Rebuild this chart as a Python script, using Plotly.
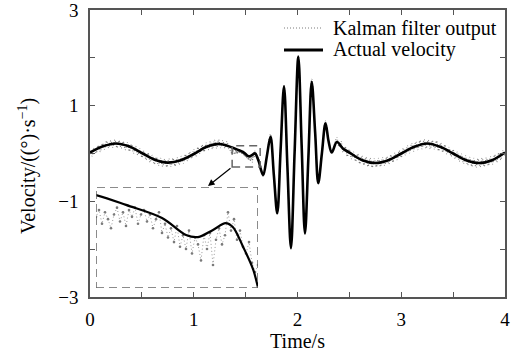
import numpy as np
import plotly.graph_objects as go

# ---------------- data ----------------
# Actual velocity: key samples (time s, velocity)
t_act = [0.00, 0.125, 0.25, 0.375, 0.50, 0.625, 0.75, 0.875, 1.00, 1.125, 1.25,
         1.37, 1.42, 1.48, 1.52, 1.54, 1.565, 1.586, 1.598, 1.615, 1.632, 1.645,
         1.67, 1.705, 1.74, 1.772, 1.805, 1.837, 1.87, 1.903, 1.937, 1.972, 2.008,
         2.04, 2.072, 2.105, 2.137, 2.17, 2.20, 2.235, 2.27, 2.30, 2.33, 2.38,
         2.44, 2.50, 2.625, 2.75, 2.875, 3.00, 3.125, 3.25, 3.375, 3.50, 3.625,
         3.75, 3.875, 4.00]
v_act = [0.02, 0.15, 0.21, 0.15, 0.01, -0.13, -0.19, -0.14, -0.01, 0.14, 0.20,
         0.125, 0.082, 0.025, -0.049, -0.058, -0.027, 0.003, -0.014, -0.10, -0.20, -0.32,
         -0.45, -0.05, 0.35, -0.45, -1.25, 0.07, 1.40, -0.29, -1.98, 0.02, 2.02,
         0.17, -1.67, -0.08, 1.50, 0.44, -0.62, 0.0, 0.63, 0.25, 0.02, 0.24,
         0.10, 0.02, -0.14, -0.20, -0.14, 0.0, 0.14, 0.21, 0.14, 0.0, -0.14,
         -0.20, -0.14, 0.02]

# Kalman filter output, segment A: every 0.02 s from 0.00 s
kal_a = [0.06, -0.05, 0.11, 0.01, 0.17, 0.04, 0.21, 0.09, 0.26, 0.12,
         0.27, 0.13, 0.29, 0.12, 0.27, 0.11, 0.25, 0.08, 0.23, 0.05,
         0.19, 0.01, 0.15, -0.03, 0.10, -0.08, 0.05, -0.13, 0.01, -0.18,
         -0.04, -0.22, -0.08, -0.25, -0.10, -0.27, -0.12, -0.28, -0.11, -0.27,
         -0.10, -0.26, -0.09, -0.23, -0.06, -0.20, -0.02, -0.15, 0.03, -0.10,
         0.08, -0.06, 0.13, 0.00, 0.18, 0.04, 0.22, 0.08, 0.25, 0.10,
         0.28, 0.11, 0.29, 0.12, 0.27, 0.11, 0.25, 0.09]
# segment B: every 0.005 s from 1.36 s (zoomed region)
kal_b = [0.04, -0.01, 0.03, 0.06, 0.00, 0.05, 0.02, -0.02, 0.04, 0.07,
         0.01, 0.05, -0.01, 0.06, 0.03, 0.07, 0.00, 0.04, 0.06, 0.01,
         0.04, -0.02, 0.02, 0.05, -0.04, 0.00, -0.06, -0.02, -0.08, -0.01,
         -0.10, -0.05, -0.11, -0.03, -0.13, -0.06, -0.09, -0.16, -0.05, -0.11,
         -0.04, -0.18, -0.07, -0.02, -0.09, -0.05, 0.05, -0.03, 0.02, -0.07,
         -0.03, -0.10, -0.13, -0.08, -0.17, -0.21, -0.18, -0.25, -0.31, -0.37]
# segment C: oscillation burst
t_kal_c = [1.67, 1.705, 1.74, 1.772, 1.805, 1.837, 1.87, 1.903, 1.937, 1.972, 2.008,
           2.04, 2.072, 2.105, 2.137, 2.17, 2.20, 2.235, 2.27, 2.30, 2.33]
kal_c = [-0.48, -0.02, 0.40, -0.42, -1.22, 0.12, 1.44, -0.28, -1.95, 0.03, 2.05,
         0.22, -1.64, -0.08, 1.55, 0.47, -0.58, 0.03, 0.68, 0.28, 0.06]
# segment D: every 0.02 s from 2.36 s
kal_d = [0.22, 0.33, 0.14, 0.25, 0.03, 0.14, -0.06, 0.08, -0.11, 0.03,
         -0.16, -0.01, -0.21, -0.05, -0.24, -0.08, -0.27, -0.10, -0.29, -0.11,
         -0.28, -0.10, -0.27, -0.09, -0.25, -0.07, -0.22, -0.03, -0.18, 0.01,
         -0.13, 0.06,
         -0.08, 0.11, -0.03, 0.16, 0.01, 0.21, 0.05, 0.24, 0.08, 0.27,
         0.10, 0.29, 0.11, 0.28, 0.10, 0.27, 0.09, 0.26, 0.06, 0.22,
         0.03, 0.18, -0.01, 0.13, -0.06, 0.08, -0.11, 0.03, -0.16, -0.01,
         -0.21, -0.05, -0.24, -0.08, -0.27, -0.10, -0.29, -0.11, -0.28, -0.10,
         -0.27, -0.09, -0.25, -0.07, -0.22, -0.03, -0.18, 0.01, -0.13, 0.06,
         -0.05]

x_ticks = [0, 0.5, 1, 1.5, 2, 2.5, 3, 3.5, 4]
x_ticktext = ["0", "", "1", "", "2", "", "3", "", "4"]
y_ticks = [-3, -2, -1, 0, 1, 2, 3]
y_ticktext = ["\u22123", "", "\u22121", "", "1", "", "3"]

zoom_t = [1.37, 1.64]
zoom_v = [-0.28, 0.16]

series_names = ["Kalman filter output", "Actual velocity"]

# ---------------- assemble ----------------
t_kal = np.concatenate([
    np.round(0.02 * np.arange(len(kal_a)), 3),
    np.round(1.36 + 0.005 * np.arange(len(kal_b)), 3),
    np.array(t_kal_c),
    np.round(2.36 + 0.02 * np.arange(len(kal_d)), 3),
])
v_kal = np.concatenate([kal_a, kal_b, kal_c, kal_d])

FONT = "Liberation Serif, Times New Roman, serif"
GREY = "#7a7a7a"
AXC = "#555555"

W, H = 518, 352
ML, MR, MT, MB = 90, 13, 10, 55
PW, PH = W - ML - MR, H - MT - MB


def px(xp):
    return (xp - ML) / PW


def py(yp):
    return (H - MB - yp) / PH


fig = go.Figure()

# main chart
fig.add_trace(go.Scatter(x=t_kal, y=v_kal, mode="lines", name=series_names[0],
                         line=dict(color=GREY, width=1.1, dash="1px,1.5px", shape="spline"),
                         showlegend=False, xaxis="x", yaxis="y"))
fig.add_trace(go.Scatter(x=t_act, y=v_act, mode="lines", name=series_names[1],
                         line=dict(color="black", width=2.6, shape="spline"),
                         showlegend=False, xaxis="x", yaxis="y"))

# inset (zoom of the dashed region)
fig.add_trace(go.Scatter(x=t_kal, y=v_kal, mode="lines+markers", name=series_names[0],
                         line=dict(color="#9a9a9a", width=1, dash="1px,2.5px"),
                         marker=dict(color=GREY, size=2.6),
                         showlegend=False, xaxis="x2", yaxis="y2"))
fig.add_trace(go.Scatter(x=t_act, y=v_act, mode="lines", name=series_names[1],
                         line=dict(color="black", width=2.2, shape="spline"),
                         showlegend=False, xaxis="x2", yaxis="y2"))

axis_common = dict(showline=True, linecolor=AXC, linewidth=1.5, mirror="ticks",
                   ticks="inside", ticklen=5, tickcolor=AXC, tickwidth=1.3,
                   showgrid=False, zeroline=False, automargin=False,
                   ticklabeloverflow="allow",
                   tickfont=dict(family=FONT, size=19, color="black"))

inset_dom_x = [px(96), px(258)]
inset_dom_y = [py(288), py(187)]

fig.update_layout(
    width=W, height=H,
    margin=dict(l=ML, r=MR, t=MT, b=MB),
    paper_bgcolor="white", plot_bgcolor="white",
    font=dict(family=FONT, size=19, color="black"),
    xaxis=dict(range=[0, 4], tickvals=x_ticks, ticktext=x_ticktext,
               title=dict(text="Time/s", font=dict(family=FONT, size=20), standoff=6),
               ticklabelstandoff=4, **axis_common),
    yaxis=dict(range=[-3, 3], tickvals=y_ticks, ticktext=y_ticktext,
               ticklabelstandoff=6, **axis_common),
    xaxis2=dict(domain=inset_dom_x, range=zoom_t, anchor="y2", visible=False),
    yaxis2=dict(domain=inset_dom_y, range=zoom_v, anchor="x2", visible=False),
    showlegend=False,
)

# y-axis title as annotation
fig.add_annotation(xref="paper", yref="paper", x=px(27), y=py(166),
                   text="Velocity/((\u00b0)\u00b7s<sup>\u22121</sup>)", textangle=-90,
                   showarrow=False, xanchor="center", yanchor="middle",
                   font=dict(family=FONT, size=20, color="black"))

# dashed region and its magnified inset
dash_style = dict(color="#666666", width=1.5, dash="8px,5px")
fig.add_shape(type="rect", xref="x", yref="y", x0=zoom_t[0], x1=zoom_t[1],
              y0=zoom_v[0], y1=zoom_v[1], line=dash_style)
fig.add_shape(type="rect", xref="x2", yref="y2", x0=zoom_t[0], x1=zoom_t[1],
              y0=zoom_v[0], y1=zoom_v[1], line=dash_style)

# arrow from region to inset
fig.add_annotation(xref="paper", yref="paper", x=px(208), y=py(186), ax=24, ay=-19,
                   text="", showarrow=True, arrowhead=2, arrowsize=1.1,
                   arrowwidth=1.2, arrowcolor="black")

# legend drawn manually
leg_rows = [(28, dict(color=GREY, width=1, dash="1px,2px")),
            (50, dict(color="black", width=2.8))]
for (yrow, lstyle), name in zip(leg_rows, series_names):
    fig.add_shape(type="line", xref="paper", yref="paper",
                  x0=px(284), x1=px(323), y0=py(yrow), y1=py(yrow), line=lstyle)
    fig.add_annotation(xref="paper", yref="paper", x=px(331), y=py(yrow),
                       text=name, showarrow=False, xanchor="left", yanchor="middle",
                       font=dict(family=FONT, size=20, color="black"))

fig.write_html("out.html")
